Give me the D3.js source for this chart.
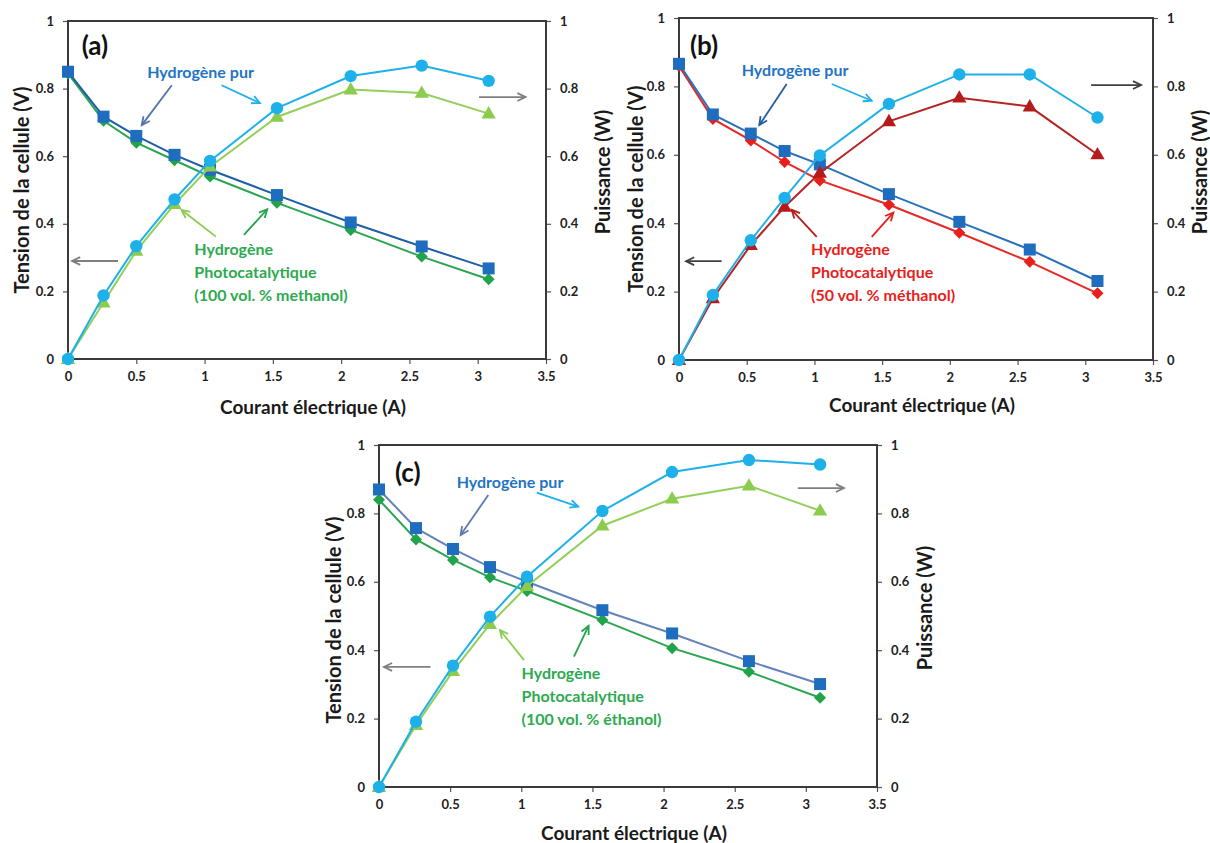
<!DOCTYPE html>
<html><head><meta charset="utf-8">
<script src="https://cdn.jsdelivr.net/npm/d3@7"></script>
<style>
body{margin:0;background:#fff;}
svg{display:block;}
text{font-family:Lato,"Open Sans",sans-serif;}
</style>
</head><body>
<svg id="chart" width="1210" height="843"></svg>
<script>
// ---------- DATA ----------
const xTickValues = [0, 0.5, 1, 1.5, 2, 2.5, 3, 3.5];
const yTickValues = [0, 0.2, 0.4, 0.6, 0.8, 1];

// (a) 100 vol.% methanol
const currentA        = [0, 0.26, 0.50, 0.78, 1.04, 1.53, 2.07, 2.59, 3.08];
const tensionPureA    = [0.850, 0.717, 0.660, 0.604, 0.560, 0.485, 0.404, 0.333, 0.268];
const tensionPhotoA   = [0.845, 0.705, 0.640, 0.588, 0.540, 0.462, 0.382, 0.303, 0.236];
const puissancePureA  = [0, 0.188, 0.334, 0.472, 0.586, 0.742, 0.837, 0.868, 0.823];
const puissancePhotoA = [0, 0.167, 0.320, 0.458, 0.569, 0.716, 0.797, 0.787, 0.726];

// (b) 50 vol.% methanol
const currentB        = [0, 0.25, 0.53, 0.78, 1.04, 1.55, 2.07, 2.59, 3.09];
const tensionPureB    = [0.866, 0.718, 0.662, 0.611, 0.572, 0.485, 0.404, 0.323, 0.231];
const tensionPhotoB   = [0.860, 0.705, 0.642, 0.579, 0.525, 0.454, 0.372, 0.287, 0.195];
const puissancePureB  = [0, 0.190, 0.350, 0.474, 0.598, 0.749, 0.835, 0.835, 0.709];
const puissancePhotoB = [0, 0.180, 0.336, 0.448, 0.547, 0.698, 0.767, 0.741, 0.601];

// (c) 100 vol.% ethanol
const currentC        = [0, 0.26, 0.52, 0.78, 1.04, 1.57, 2.06, 2.60, 3.10];
const tensionPureC    = [0.870, 0.757, 0.696, 0.643, 0.600, 0.517, 0.449, 0.368, 0.301];
const tensionPhotoC   = [0.840, 0.724, 0.664, 0.613, 0.573, 0.488, 0.406, 0.337, 0.261];
const puissancePureC  = [0, 0.191, 0.355, 0.498, 0.615, 0.807, 0.921, 0.956, 0.943];
const puissancePhotoC = [0, 0.181, 0.339, 0.476, 0.587, 0.764, 0.843, 0.881, 0.808];

// texts
const xTitle = "Courant électrique (A)";
const yLeftTitle = "Tension de la cellule (V)";
const yRightTitle = "Puissance (W)";
const pureLabel = "Hydrogène pur";
const photoLabelA = ["Hydrogène", "Photocatalytique", "(100 vol. % methanol)"];
const photoLabelB = ["Hydrogène", "Photocatalytique", "(50 vol. % méthanol)"];
const photoLabelC = ["Hydrogène", "Photocatalytique", "(100 vol. % éthanol)"];

// ---------- LAYOUT / STYLE ----------
const panels = [
  { tag: "(a)", current: currentA, vPure: tensionPureA, vPhoto: tensionPhotoA, pPure: puissancePureA, pPhoto: puissancePhotoA,
    photoLabel: photoLabelA,
    box: {left: 68, right: 546, top: 21, bottom: 359},
    leftTitle: {x: 21, y: 190}, rightTitle: {x: 602, y: 172}, xTitleY: 406,
    sqLine: "#1F5EA8", photoVColor: "#22A34A", photoVLine: "#2BA551", photoPColor: "#8BCB4E", photoPLine: "#93CF5A",
    photoText: "#2DAA4F", pureVArrow: "#4E74AE", sideArrow: "#7F7F7F",
    photoArrow1: "#8BCB4E", photoArrow2: "#22A34A",
    ann: { tag: [0.10, 0.929], pure: [0.58, 0.85], arrV: [0.76, 0.81, 0.54, 0.692], arrP: [1.125, 0.81, 1.405, 0.757],
           right: [3.01, 0.775, 3.35, 0.775], left: [0.366, 0.29, 0.03, 0.29],
           photo: [0.925, 0.328], arr1: [1.083, 0.362, 0.832, 0.441], arr2: [1.288, 0.367, 1.459, 0.443] } },
  { tag: "(b)", current: currentB, vPure: tensionPureB, vPhoto: tensionPhotoB, pPure: puissancePureB, pPhoto: puissancePhotoB,
    photoLabel: photoLabelB,
    box: {left: 679, right: 1153, top: 18, bottom: 360},
    leftTitle: {x: 635, y: 189}, rightTitle: {x: 1199, y: 172}, xTitleY: 404,
    sqLine: "#2A70BB", photoVColor: "#E8201C", photoVLine: "#E42A25", photoPColor: "#B41C1C", photoPLine: "#B52323",
    photoText: "#E8201C", pureVArrow: "#1F5F9F", sideArrow: "#404040",
    photoArrow1: "#B41C1C", photoArrow2: "#E8201C",
    ann: { tag: [0.081, 0.921], pure: [0.463, 0.85], arrV: [0.795, 0.807, 0.593, 0.687], arrP: [1.128, 0.807, 1.423, 0.758],
           right: [3.043, 0.804, 3.412, 0.804], left: [0.315, 0.289, 0.052, 0.289],
           photo: [0.975, 0.325], arr1: [1.017, 0.36, 0.832, 0.439], arr2: [1.423, 0.36, 1.583, 0.431] } },
  { tag: "(c)", current: currentC, vPure: tensionPureC, vPhoto: tensionPhotoC, pPure: puissancePureC, pPhoto: puissancePhotoC,
    photoLabel: photoLabelC,
    box: {left: 379, right: 877, top: 445, bottom: 787},
    leftTitle: {x: 333, y: 620}, rightTitle: {x: 924, y: 608}, xTitleY: 832,
    sqLine: "#6483BA", photoVColor: "#22A34A", photoVLine: "#2BA551", photoPColor: "#8BCB4E", photoPLine: "#93CF5A",
    photoText: "#2DAA4F", pureVArrow: "#5C7AB0", sideArrow: "#7F7F7F",
    photoArrow1: "#8BCB4E", photoArrow2: "#22A34A",
    ann: { tag: [0.112, 0.922], pure: [0.546, 0.893], arrV: [0.768, 0.854, 0.574, 0.737], arrP: [1.108, 0.861, 1.40, 0.82],
           right: [2.944, 0.874, 3.268, 0.874], left: [0.362, 0.351, 0.035, 0.351],
           photo: [1.002, 0.336], arr1: [1.019, 0.371, 0.85, 0.459], arr2: [1.37, 0.381, 1.473, 0.471] } }
];

const squareColor = "#1F6DBE";
const circleColor = "#1EB0E8";
const pureText = "#1F74C4";

const svg = d3.select("#chart");

function arrow(g, x1, y1, x2, y2, color, w) {
  g.append("line").attr("x1", x1).attr("y1", y1).attr("x2", x2).attr("y2", y2)
    .attr("stroke", color).attr("stroke-width", w);
  const ang = Math.atan2(y2 - y1, x2 - x1), L = 9, a = 0.45;
  const d = `M${x2 - L * Math.cos(ang - a)},${y2 - L * Math.sin(ang - a)}L${x2},${y2}L${x2 - L * Math.cos(ang + a)},${y2 - L * Math.sin(ang + a)}`;
  g.append("path").attr("d", d).attr("fill", "none").attr("stroke", color).attr("stroke-width", w);
}

const shapes = {
  square: (r) => `M${-r},${-r}h${2 * r}v${2 * r}h${-2 * r}Z`,
  diamond: (r) => `M0,${-r}L${r},0L0,${r}L${-r},0Z`,
  triangle: (r) => `M0,${-r}L${r * 0.95},${r * 0.65}L${-r * 0.95},${r * 0.65}Z`,
  circle: (r) => `M${r},0A${r},${r} 0 1,1 ${-r},0A${r},${r} 0 1,1 ${r},0Z`
};

panels.forEach(p => {
  const b = p.box;
  const x = d3.scaleLinear().domain([0, 3.5]).range([b.left, b.right]);
  const yL = d3.scaleLinear().domain([0, 1]).range([b.bottom, b.top]);
  const yR = d3.scaleLinear().domain([0, 1]).range([b.bottom, b.top]);
  const g = svg.append("g");

  // axes
  const fmt = d3.format("");
  const ax = g.append("g").attr("transform", `translate(0,${b.bottom})`)
    .call(d3.axisBottom(x).tickValues(xTickValues).tickSize(5).tickPadding(8).tickFormat(fmt));
  const al = g.append("g").attr("transform", `translate(${b.left},0)`)
    .call(d3.axisLeft(yL).tickValues(yTickValues).tickSize(5).tickPadding(9).tickFormat(fmt));
  const ar = g.append("g").attr("transform", `translate(${b.right},0)`)
    .call(d3.axisRight(yR).tickValues(yTickValues).tickSize(5).tickPadding(9).tickFormat(fmt));
  [ax, al, ar].forEach(a => {
    a.select(".domain").remove();
    a.selectAll("line").attr("stroke", "#555").attr("stroke-width", 1.2);
    a.selectAll("text").attr("font-family", "Lato, sans-serif").attr("font-size", 13)
      .attr("font-weight", "bold").attr("fill", "#222");
  });

  g.append("rect").attr("x", b.left).attr("y", b.top)
    .attr("width", b.right - b.left).attr("height", b.bottom - b.top)
    .attr("fill", "none").attr("stroke", "#3a3a3a").attr("stroke-width", 2);

  // titles
  g.append("text").attr("x", (b.left + b.right) / 2 + 6).attr("y", p.xTitleY)
    .attr("text-anchor", "middle").attr("dominant-baseline", "central")
    .attr("font-size", 19).attr("font-weight", "bold").attr("fill", "#1a1a1a").text(xTitle);
  g.append("text").attr("transform", `translate(${p.leftTitle.x},${p.leftTitle.y}) rotate(-90)`)
    .attr("text-anchor", "middle").attr("dominant-baseline", "central")
    .attr("font-size", 20).attr("font-weight", "bold").attr("fill", "#1a1a1a").text(yLeftTitle);
  g.append("text").attr("transform", `translate(${p.rightTitle.x},${p.rightTitle.y}) rotate(-90)`)
    .attr("text-anchor", "middle").attr("dominant-baseline", "central")
    .attr("font-size", 20).attr("font-weight", "bold").attr("fill", "#1a1a1a").text(yRightTitle);

  // series
  const series = [
    {vals: p.vPhoto, y: yL, line: p.photoVLine, fill: p.photoVColor, shape: "diamond", r: 6},
    {vals: p.vPure, y: yL, line: p.sqLine, fill: squareColor, shape: "square", r: 6},
    {vals: p.pPhoto, y: yR, line: p.photoPLine, fill: p.photoPColor, shape: "triangle", r: 7.5},
    {vals: p.pPure, y: yR, line: circleColor, fill: circleColor, shape: "circle", r: 6.2}
  ];
  series.forEach(s => {
    const pts = p.current.map((c, i) => [c, s.vals[i]]);
    g.append("path").datum(pts)
      .attr("d", d3.line().x(d => x(d[0])).y(d => s.y(d[1])))
      .attr("fill", "none").attr("stroke", s.line).attr("stroke-width", 2);
    g.selectAll(null).data(pts).enter().append("path")
      .attr("transform", d => `translate(${x(d[0])},${s.y(d[1])})`)
      .attr("d", shapes[s.shape](s.r)).attr("fill", s.fill);
  });

  // annotations
  const A = p.ann;
  g.append("text").attr("x", x(A.tag[0])).attr("y", yL(A.tag[1]))
    .attr("dominant-baseline", "central").attr("font-size", 26).attr("font-weight", "bold")
    .attr("fill", "#111").text(p.tag);
  g.append("text").attr("x", x(A.pure[0])).attr("y", yL(A.pure[1]))
    .attr("dominant-baseline", "central").attr("font-size", 16).attr("font-weight", "bold")
    .attr("fill", pureText).text(pureLabel);
  arrow(g, x(A.arrV[0]), yL(A.arrV[1]), x(A.arrV[2]), yL(A.arrV[3]), p.pureVArrow, 1.8);
  arrow(g, x(A.arrP[0]), yL(A.arrP[1]), x(A.arrP[2]), yL(A.arrP[3]), circleColor, 1.8);
  arrow(g, x(A.right[0]), yL(A.right[1]), x(A.right[2]), yL(A.right[3]), p.sideArrow, 1.8);
  arrow(g, x(A.left[0]), yL(A.left[1]), x(A.left[2]), yL(A.left[3]), p.sideArrow, 1.8);
  const lineGap = 23;
  p.photoLabel.forEach((t, i) => {
    g.append("text").attr("x", x(A.photo[0])).attr("y", yL(A.photo[1]) + i * lineGap)
      .attr("dominant-baseline", "central").attr("font-size", 16).attr("font-weight", "bold")
      .attr("fill", p.photoText).text(t);
  });
  arrow(g, x(A.arr1[0]), yL(A.arr1[1]), x(A.arr1[2]), yL(A.arr1[3]), p.photoArrow1, 1.8);
  arrow(g, x(A.arr2[0]), yL(A.arr2[1]), x(A.arr2[2]), yL(A.arr2[3]), p.photoArrow2, 1.8);
});
</script>
</body></html>
